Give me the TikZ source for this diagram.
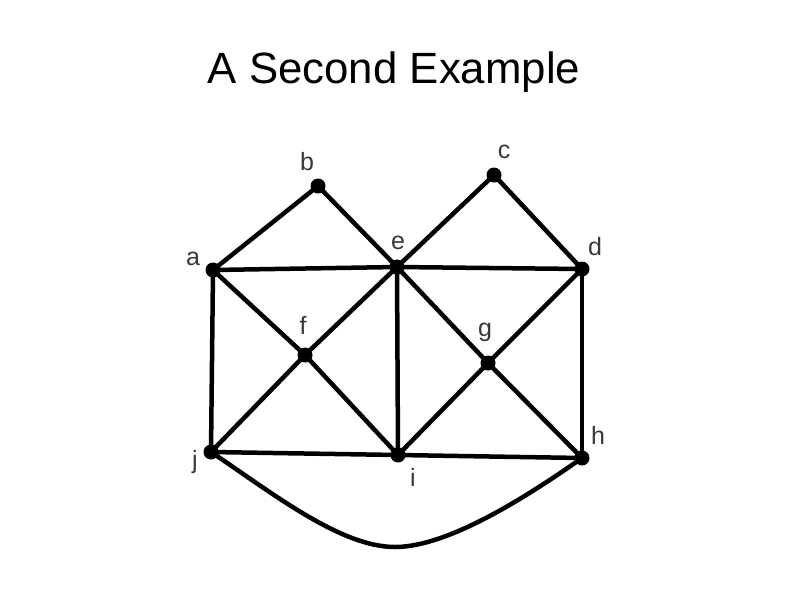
\documentclass[tikz,border=0pt]{standalone}
\usepackage{fontspec}
\setmainfont{Liberation Sans}
\begin{document}
\begin{tikzpicture}[x=1pt,y=-1pt,
  vtx/.style={circle,fill=black,inner sep=0pt,minimum size=15pt},
  lbl/.style={inner sep=0pt,text=black!78,font=\fontsize{25}{25}\selectfont},
  edge/.style={line width=4.5pt,black}]
\useasboundingbox (0,0) rectangle (794,595);
\node[anchor=base,font=\fontsize{43.8}{43.8}\selectfont] (title) at (394,83.5) {A Second Example};
\node[vtx] (b) at (318,186) {};
\node[vtx] (c) at (494,175) {};
\node[vtx] (a) at (213,270) {};
\node[vtx] (e) at (397,267) {};
\node[vtx] (d) at (582,269) {};
\node[vtx] (f) at (305,355) {};
\node[vtx] (g) at (488,363) {};
\node[vtx] (j) at (211,452) {};
\node[vtx] (i) at (398,455) {};
\node[vtx] (h) at (582,458) {};
\coordinate (low) at (395,547);
\node[lbl] (lb) at (307,162) {b};
\node[lbl] (lc) at (504,152) {c};
\node[lbl] (la) at (193,259) {a};
\node[lbl] (le) at (398,243) {e};
\node[lbl] (ld) at (595,247) {d};
\node[lbl] (lf) at (303,325) {f};
\node[lbl] (lg) at (485,332) {g};
\node[lbl] (lj) at (195,462) {j};
\node[lbl] (li) at (413,477) {i};
\node[lbl] (lh) at (598,435) {h};
\draw[edge] (a.center) -- (b.center) -- (e.center) -- (c.center) -- (d.center);
\draw[edge] (a.center) -- (e.center) -- (d.center);
\draw[edge] (a.center) -- (j.center);
\draw[edge] (d.center) -- (h.center);
\draw[edge] (e.center) -- (i.center);
\draw[edge] (a.center) -- (f.center) -- (i.center);
\draw[edge] (e.center) -- (f.center) -- (j.center);
\draw[edge] (e.center) -- (g.center) -- (h.center);
\draw[edge] (d.center) -- (g.center) -- (i.center);
\draw[edge] (j.center) -- (i.center) -- (h.center);
\draw[edge] (j.center) .. controls (271,492) and (340,547) .. (low)
  .. controls (450,547) and (532,493) .. (h.center);
\end{tikzpicture}
\end{document}
